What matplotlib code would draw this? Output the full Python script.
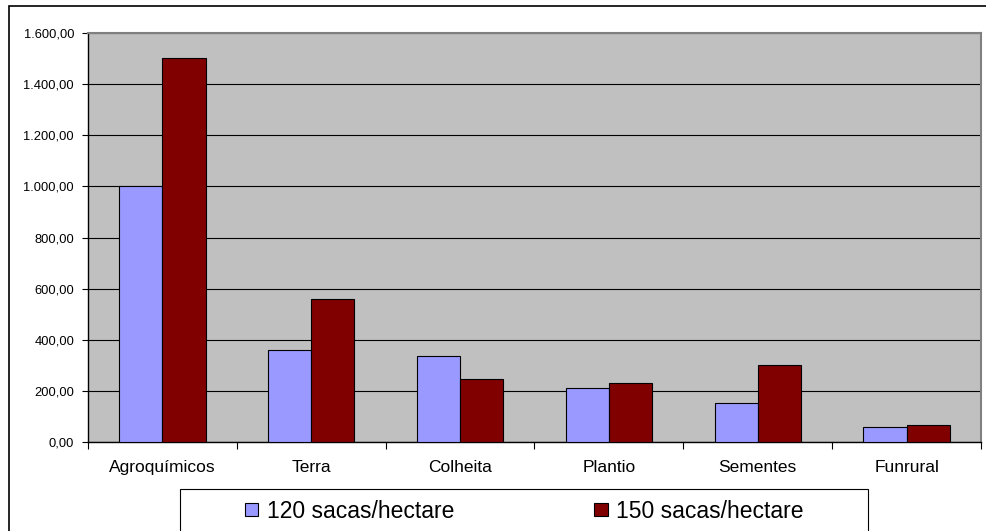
import numpy as np
import matplotlib
matplotlib.use('Agg')
from matplotlib import pyplot as plt
from matplotlib.patches import Rectangle
from matplotlib.ticker import FuncFormatter, MultipleLocator
plt.rcParams.update({'font.family': 'Liberation Sans'})

categories = ['Agroquímicos', 'Terra', 'Colheita', 'Plantio', 'Sementes', 'Funrural']
sacas_120 = [1003, 358, 335, 210, 152, 57]
sacas_150 = [1503, 558, 248, 229, 301, 68]
series_labels = ['120 sacas/hectare', '150 sacas/hectare']
colors = ['#9999FF', '#800000']

W, H = 986, 531
fig = plt.figure(figsize=(W / 100, H / 100), dpi=100)
fig.patch.set_facecolor('white')

# outer chart frame (cut off at right and bottom)
fig.patches.append(Rectangle((9 / W, 1 - 560 / H), 1000 / W, 554 / H, transform=fig.transFigure,
                             fill=False, ec='black', lw=1.2))

ax = fig.add_axes([88 / W, 1 - 442 / H, (981 - 88) / W, (442 - 33) / H])
ax.set_facecolor('#C0C0C0')

x = np.arange(len(categories))
bw = 0.29
ax.bar(x - bw / 2, sacas_120, bw, color=colors[0], ec='black', lw=0.8, label=series_labels[0], zorder=3)
ax.bar(x + bw / 2, sacas_150, bw, color=colors[1], ec='black', lw=0.8, label=series_labels[1], zorder=3)

ax.set_xlim(-0.5, len(categories) - 0.5)
ax.set_ylim(0, 1600)
ax.yaxis.set_major_locator(MultipleLocator(200))
fmt = lambda v, p: '{:,.2f}'.format(v).replace(',', 'X').replace('.', ',').replace('X', '.')
ax.yaxis.set_major_formatter(FuncFormatter(fmt))
ax.grid(axis='y', color='black', lw=0.8, zorder=1)

ax.set_xticks(x)
ax.set_xticklabels(categories, fontsize=12.5)
ax.set_xticks(np.arange(-0.5, len(categories), 1), minor=True)
ax.tick_params(axis='x', which='major', length=0, pad=13)
ax.tick_params(axis='x', which='minor', length=5, width=0.8, direction='out')
ax.tick_params(axis='y', length=4, width=0.8, labelsize=9.3, pad=6)

for s in ['left', 'bottom']:
    ax.spines[s].set_color('black')
    ax.spines[s].set_linewidth(1)
for s in ['top', 'right']:
    ax.spines[s].set_color('#808080')
    ax.spines[s].set_linewidth(1.5)

# legend box
fig.patches.append(Rectangle((180 / W, 1 - 545 / H), 688 / W, 56 / H, transform=fig.transFigure,
                             fill=False, ec='black', lw=0.8))
fig.legend(loc='center', bbox_to_anchor=(524 / W, 1 - 511 / H), ncol=2, frameon=False,
           fontsize=16.5, columnspacing=6.1, handlelength=0.6, handleheight=0.53, handletextpad=0.36)

plt.savefig('out.png', dpi=100)
